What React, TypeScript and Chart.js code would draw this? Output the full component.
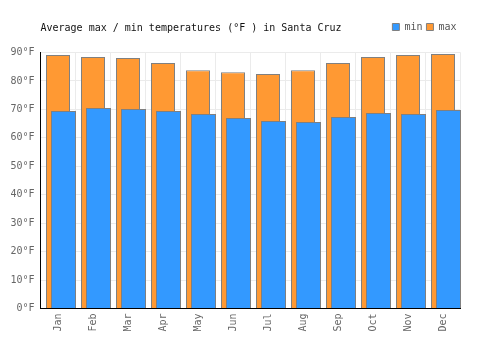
import React, { useEffect, useRef } from 'react';
import { Chart, registerables } from 'chart.js';

Chart.register(...registerables);

const months = ['Jan', 'Feb', 'Mar', 'Apr', 'May', 'Jun', 'Jul', 'Aug', 'Sep', 'Oct', 'Nov', 'Dec'];
const maxTemps = [89.1, 88.4, 88.1, 86.3, 83.8, 83.1, 82.4, 83.8, 86.3, 88.4, 89.1, 89.5];
const minTemps = [69.4, 70.5, 70.1, 69.4, 68.4, 67.0, 65.9, 65.6, 67.3, 68.7, 68.4, 69.8];
const titleText = 'Average max / min temperatures (°F ) in Santa Cruz';
const seriesNames = ['min', 'max'];
const yMin = 0;
const yMax = 90;
const yStep = 10;

export default function App() {
  const ref = useRef<HTMLCanvasElement>(null);

  useEffect(() => {
    document.body.style.margin = '0';
    const canvas = ref.current;
    if (!canvas) return;
    Chart.defaults.font.family = "'DejaVu Sans Mono', monospace";
    Chart.defaults.font.size = 10;

    const minOnTop = {
      id: 'minOnTop',
      afterDatasetsDraw(chart: any) {
        const meta = chart.getDatasetMeta(0);
        if (meta && meta.controller) meta.controller.draw();
      },
    };

    const catPct = 16.5 / 35;

    const chart = new Chart(canvas, {
      type: 'bar',
      data: {
        labels: months,
        datasets: [
          {
            label: seriesNames[0],
            data: minTemps,
            backgroundColor: '#3399ff',
            borderColor: '#808080',
            borderWidth: 1,
            order: 2,
            categoryPercentage: catPct,
            barPercentage: 25 / 5.5,
          },
          {
            label: seriesNames[1],
            data: maxTemps,
            backgroundColor: '#ff9933',
            borderColor: '#808080',
            borderWidth: 1,
            order: 1,
            categoryPercentage: catPct,
            barPercentage: 24 / 5.5,
          },
          {
            label: '',
            data: [],
            order: 0,
            categoryPercentage: catPct,
            barPercentage: 1,
          },
        ],
      },
      options: {
        responsive: false,
        animation: false,
        layout: { padding: { top: 18, right: 39.5, left: 0, bottom: 0 } },
        plugins: {
          tooltip: { enabled: false },
          title: {
            display: true,
            text: titleText,
            position: 'top',
            align: 'start',
            fullSize: false,
            weight: 500,
            color: '#111',
            font: { size: 10, weight: 'normal' },
            padding: { top: -19.5, bottom: 18 },
          } as any,
          legend: {
            position: 'top',
            align: 'end',
            reverse: true,
            labels: {
              boxWidth: 7,
              boxHeight: 7,
              padding: 4,
              color: '#555',
              font: { size: 10 },
              filter: (item: any) => item.text !== '',
            },
          },
        },
        scales: {
          x: {
            grid: { color: '#ebebeb', drawTicks: false, offset: true },
            border: { color: '#000' },
            ticks: {
              color: '#666',
              autoSkip: false,
              maxRotation: 90,
              minRotation: 90,
              padding: 5,
              font: { size: 10 },
            },
            afterFit: (s: any) => {
              s.height = 41.5;
            },
          },
          y: {
            min: yMin,
            max: yMax,
            grid: { color: '#ebebeb', drawTicks: false },
            border: { color: '#000' },
            ticks: {
              stepSize: yStep,
              color: '#666',
              padding: 6,
              font: { size: 10 },
              callback: (v: any) => v + '°F',
            },
            afterFit: (s: any) => {
              s.width = 40.5;
            },
          },
        },
      },
      plugins: [minOnTop],
    });

    return () => chart.destroy();
  }, []);

  return <canvas ref={ref} width={500} height={350} style={{ display: 'block' }} />;
}
